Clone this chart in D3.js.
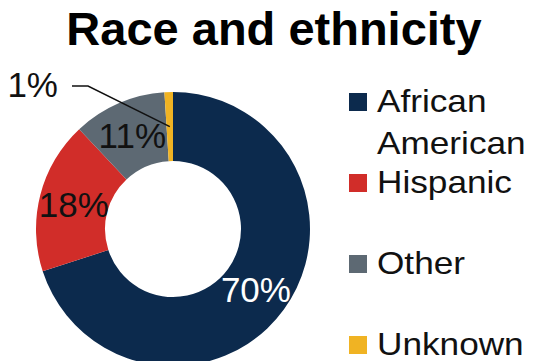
<!DOCTYPE html>
<html>
<head>
<meta charset="utf-8">
<script src="https://cdn.jsdelivr.net/npm/d3@7/dist/d3.min.js"></script>
<style>
  html, body { margin: 0; padding: 0; background: #fff; }
  svg { display: block; font-family: "Liberation Sans", Arial, sans-serif; }
</style>
</head>
<body>
<svg id="chart" width="539" height="361"></svg>
<script>
// Share of people by race and ethnicity (percent)
const categories = ["African American", "Hispanic", "Other", "Unknown"];
const shares = [70, 18, 11, 1];
const colors = ["#0c2a4d", "#d12d29", "#5d6973", "#f0b323"];
const labelColors = ["#ffffff", "#111111", "#111111", "#111111"];
const legendLines = [["African", "American"], ["Hispanic"], ["Other"], ["Unknown"]];
const title = "Race and ethnicity";

const W = 539, H = 361;
const cx = 173, cy = 229, rOuter = 137, rInner = 68;

const svg = d3.select("#chart");

svg.append("text")
  .attr("x", 274).attr("y", 45)
  .attr("text-anchor", "middle")
  .attr("font-size", 47).attr("font-weight", "bold")
  .attr("fill", "#000")
  .text(title);

const data = categories.map((c, i) => ({ name: c, value: shares[i], i }));

const pie = d3.pie().value(d => d.value).sort(null);
const arcs = pie(data);
const arc = d3.arc().innerRadius(rInner).outerRadius(rOuter);

const g = svg.append("g").attr("transform", `translate(${cx},${cy})`);

g.selectAll("path.slice")
  .data(arcs)
  .join("path")
  .attr("class", "slice")
  .attr("d", arc)
  .attr("fill", d => colors[d.data.i]);

const fmt = v => v + "%";

// Inside labels for the larger slices
g.selectAll("text.val")
  .data(arcs.filter(d => d.data.value >= 5))
  .join("text")
  .attr("class", "val")
  .attr("x", d => arc.centroid(d)[0])
  .attr("y", d => arc.centroid(d)[1] + 13)
  .attr("text-anchor", "middle")
  .attr("font-size", 35)
  .attr("fill", d => labelColors[d.data.i])
  .text(d => fmt(d.data.value));

// Small slice: label outside with a leader line
arcs.filter(d => d.data.value < 5).forEach(d => {
  const [px, py] = arc.centroid(d);
  g.append("polyline")
    .attr("points", [[px, py], [88 - cx, 86 - cy], [72 - cx, 86 - cy]].map(p => p.join(",")).join(" "))
    .attr("fill", "none")
    .attr("stroke", "#111")
    .attr("stroke-width", 1.5);
  g.append("text")
    .attr("x", 58 - cx).attr("y", 97 - cy)
    .attr("text-anchor", "end")
    .attr("font-size", 35)
    .attr("fill", "#111")
    .text(fmt(d.data.value));
});

// Legend
const legendY = d3.scalePoint().domain(categories).range([112, 355]);
const leg = svg.append("g");
categories.forEach((c, i) => {
  const by = legendY(c);
  leg.append("rect")
    .attr("x", 349).attr("y", by - 19)
    .attr("width", 18).attr("height", 18)
    .attr("fill", colors[i]);
  const t = leg.append("text")
    .attr("transform", `translate(377,${by}) scale(1.1,1)`)
    .attr("font-size", 32)
    .attr("fill", "#111");
  legendLines[i].forEach((line, k) => {
    t.append("tspan")
      .attr("x", 0)
      .attr("dy", k === 0 ? 0 : 42)
      .text(line);
  });
});
</script>
</body>
</html>
